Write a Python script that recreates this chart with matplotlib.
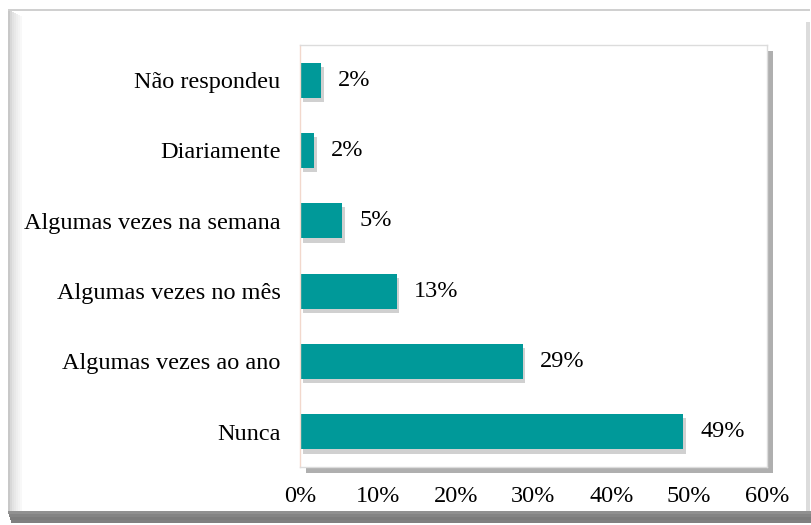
import matplotlib
matplotlib.use("Agg")
import matplotlib.pyplot as plt
import matplotlib.patheffects as pe
from matplotlib.patches import Rectangle

categories = ["Nunca", "Algumas vezes ao ano", "Algumas vezes no mês",
              "Algumas vezes na semana", "Diariamente", "Não respondeu"]
values = [49.2, 28.6, 12.4, 5.4, 1.8, 2.7]
labels = ["49%", "29%", "13%", "5%", "2%", "2%"]
xticks = [0, 10, 20, 30, 40, 50, 60]

plt.rcParams["font.family"] = ["Liberation Serif", "DejaVu Serif"]
FS = 17.5

fig = plt.figure(figsize=(8.12, 5.25), dpi=100)
fig.patch.set_facecolor("white")

# outer frame: left gradient strip, dark bottom band
W, H = 812, 525
def px_rect(x0, y0, x1, y1, color, z=0, **kw):
    # rectangle in pixel coords, y measured from the top
    fig.patches.append(Rectangle((x0 / W, 1 - y1 / H), (x1 - x0) / W, (y1 - y0) / H,
                                 transform=fig.transFigure, facecolor=color,
                                 edgecolor="none", zorder=z, **kw))

px_rect(8, 10, 810, 514, "white", z=0)
for i, c in enumerate(["#c8c8c8", "#d8d8d8", "#e2e2e2", "#e8e8e8", "#eeeeee", "#f3f3f3", "#f8f8f8"]):
    px_rect(8 + i * 2, 10 + i, 10 + i * 2, 514, c, z=0.5)
px_rect(8, 9, 810, 11, "#d0d0d0", z=0.5)
px_rect(806, 22, 810, 514, "#dcdcdc", z=0.5)
for i, c in enumerate(["#909090", "#848484", "#7c7c7c", "#808080"]):
    px_rect(8 + i, 511 + i * 3, 812, 514 + i * 3, c, z=0.6)

ax = fig.add_axes([300 / W, 1 - 467 / H, 467 / W, 422 / H])
ax.patch.set_path_effects([pe.withSimplePatchShadow(offset=(4, -4), shadow_rgbFace="#606060", alpha=0.5)])
ax.set_zorder(2)

y = range(len(categories))
ax.barh(y, values, height=0.5, color="#009999",
        path_effects=[pe.withSimplePatchShadow(offset=(2, -3), shadow_rgbFace="#666666", alpha=0.3)])
for yi, v, lab in zip(y, values, labels):
    ax.text(v + 2.2, yi, lab, va="center", ha="left", fontsize=FS)

ax.set_xlim(0, 60)
ax.set_ylim(-0.5, len(categories) - 0.5)
ax.set_yticks(list(y))
ax.set_yticklabels(categories, fontsize=FS)
ax.set_xticks(xticks)
ax.set_xticklabels([f"{t}%" for t in xticks], fontsize=FS)
ax.tick_params(axis="both", length=0)
ax.tick_params(axis="y", pad=14)
ax.tick_params(axis="x", pad=14)
for side, sp in ax.spines.items():
    sp.set_color("#dcdcdc")
    sp.set_linewidth(1)
ax.spines["left"].set_color("#f2d8cc")

fig.savefig("out.png", dpi=100)
